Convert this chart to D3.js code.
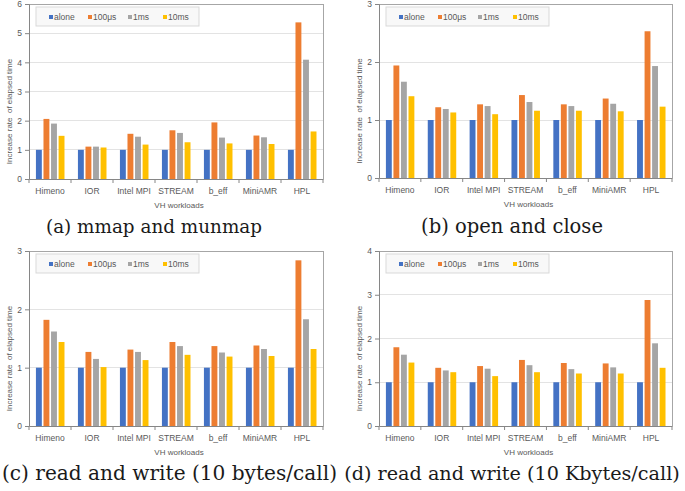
<!DOCTYPE html>
<html><head><meta charset="utf-8">
<script src="https://cdn.jsdelivr.net/npm/d3@7"></script>
<style>
html,body{margin:0;padding:0;background:#fff;}
svg{display:block;}
</style></head>
<body>
<svg id="chart" width="685" height="491"></svg>
<script>
const categories = ["Himeno","IOR","Intel MPI","STREAM","b_eff","MiniAMR","HPL"];
const seriesNames = ["alone","100\u03bcs","1ms","10ms"];
const seriesColors = ["#4472C4","#ED7D31","#A5A5A5","#FFC000"];

// rows: one per category, columns follow seriesNames
const mmapMunmap = [[1,2.06,1.90,1.48],[1,1.11,1.11,1.08],[1,1.55,1.45,1.18],[1,1.67,1.58,1.26],[1,1.94,1.42,1.22],[1,1.49,1.43,1.20],[1,5.37,4.09,1.63]];
const openClose  = [[1,1.94,1.66,1.41],[1,1.22,1.19,1.13],[1,1.27,1.24,1.10],[1,1.43,1.31,1.16],[1,1.27,1.24,1.16],[1,1.37,1.28,1.15],[1,2.53,1.93,1.23]];
const readWrite10B  = [[1,1.82,1.62,1.44],[1,1.27,1.15,1.01],[1,1.31,1.27,1.13],[1,1.44,1.37,1.22],[1,1.37,1.26,1.19],[1,1.38,1.32,1.20],[1,2.84,1.83,1.32]];
const readWrite10KB = [[1,1.80,1.63,1.45],[1,1.33,1.27,1.23],[1,1.37,1.31,1.14],[1,1.51,1.39,1.23],[1,1.44,1.30,1.20],[1,1.43,1.34,1.20],[1,2.88,1.89,1.33]];

const yMaxes = [6,3,3,4];
const captions = ["(a) mmap and munmap","(b) open and close","(c) read and write (10 bytes/call)","(d) read and write (10 Kbytes/call)"];
const yTitle = "Increase rate  of elapsed time";
const xTitle = "VH workloads";

const panels = [
  {data:mmapMunmap, max:yMaxes[0], cap:captions[0], x0:29, x1:323, yT:4, y0:179, capL:46, capR:262, capY:233},
  {data:openClose, max:yMaxes[1], cap:captions[1], x0:379, x1:672, yT:4, y0:178, capL:421, capR:603, capY:233},
  {data:readWrite10B, max:yMaxes[2], cap:captions[2], x0:29, x1:323, yT:251, y0:426, capL:2, capR:337, capY:480},
  {data:readWrite10KB, max:yMaxes[3], cap:captions[3], x0:379, x1:672, yT:251, y0:426, capL:344, capR:680, capY:480}
];

const svg = d3.select("#chart");
const txt = "#595959";
const sans = "'Liberation Sans', Arial, sans-serif";
const serif = "'DejaVu Serif', 'Liberation Serif', serif";

panels.forEach(p => {
  const g = svg.append("g");
  const x = d3.scaleBand().domain(categories).range([p.x0, p.x1]).padding(0);
  const bw = x.bandwidth();
  const xi = d3.scaleBand().domain(seriesNames).range([bw*0.165, bw*0.845]).paddingInner(0.22).paddingOuter(0);
  const y = d3.scaleLinear().domain([0, p.max]).range([p.y0, p.yT]);

  g.append("g").selectAll("line").data(d3.range(1, p.max)).join("line")
    .attr("x1", p.x0).attr("x2", p.x1).attr("y1", d=>y(d)).attr("y2", d=>y(d))
    .attr("stroke", "#e3e3e3").attr("stroke-width", 1).attr("shape-rendering","crispEdges");
  g.append("path").attr("d", `M${p.x0},${y(p.max)}H${p.x1}V${p.y0}`)
    .attr("fill","none").attr("stroke","#a6a6a6").attr("stroke-width",1).attr("shape-rendering","crispEdges");

  const rows = p.data.map((r,i)=>({cat:categories[i], vals:r}));
  g.append("g").selectAll("g").data(rows).join("g")
    .attr("transform", d=>`translate(${x(d.cat)},0)`)
    .selectAll("rect").data(d=>d.vals.map((v,j)=>({s:seriesNames[j], v, c:seriesColors[j]}))).join("rect")
    .attr("x", d=>xi(d.s)).attr("width", xi.bandwidth())
    .attr("y", d=>y(d.v)).attr("height", d=>y(0)-y(d.v))
    .attr("fill", d=>d.c);

  const ya = g.append("g").attr("transform",`translate(${p.x0},0)`)
    .call(d3.axisLeft(y).ticks(p.max).tickFormat(d3.format("d")).tickSize(4).tickPadding(3));
  ya.select(".domain").attr("stroke","#868686");
  ya.selectAll(".tick line").attr("stroke","#868686");
  ya.selectAll("text").attr("fill",txt).attr("font-size","8.5px").attr("font-family",sans);

  const xa = g.append("g").attr("transform",`translate(0,${p.y0})`)
    .call(d3.axisBottom(x).tickSize(0).tickPadding(9));
  xa.select(".domain").attr("stroke","#868686");
  xa.selectAll("text").attr("fill",txt).attr("font-size","8.5px").attr("font-family",sans);
  xa.append("g").selectAll("line").data(d3.range(categories.length+1)).join("line")
    .attr("x1", i=>p.x0 + i*bw).attr("x2", i=>p.x0 + i*bw).attr("y1",0).attr("y2",4)
    .attr("stroke","#868686");

  g.append("text").attr("transform",`translate(${p.x0-17},${(p.yT+p.y0)/2+20}) rotate(-90)`)
    .attr("text-anchor","middle").attr("font-size","8px").attr("fill",txt).attr("font-family",sans)
    .style("white-space","pre").text(yTitle);
  g.append("text").attr("x",(p.x0+p.x1)/2+3).attr("y",p.y0+29)
    .attr("text-anchor","middle").attr("font-size","8px").attr("fill",txt).attr("font-family",sans).text(xTitle);

  const lg = g.append("g").attr("transform",`translate(${p.x0+7},${p.yT+3})`);
  lg.append("rect").attr("width",163).attr("height",19).attr("fill","#f8f8f8").attr("stroke","#d9d9d9");
  const lx = [13,52,92,127];
  seriesNames.forEach((s,j)=>{
    lg.append("rect").attr("x",lx[j]).attr("y",8).attr("width",4).attr("height",4).attr("fill",seriesColors[j]);
    lg.append("text").attr("x",lx[j]+5).attr("y",12.8).attr("font-size","8.5px").attr("fill",txt).attr("font-family",sans).text(s);
  });

  const cap = svg.append("text").attr("x",p.capL).attr("y",p.capY)
    .attr("font-family",serif).attr("font-size","20px").attr("fill","#1a1a1a")
    .text(p.cap);
  const w = cap.node().getComputedTextLength();
  const fs = Math.min(21, 20 * (p.capR - p.capL) / w);
  cap.attr("font-size", fs.toFixed(2) + "px");
  const w2 = cap.node().getComputedTextLength();
  cap.attr("x", (p.capL + p.capR)/2 - w2/2);
});
</script>
</body></html>
